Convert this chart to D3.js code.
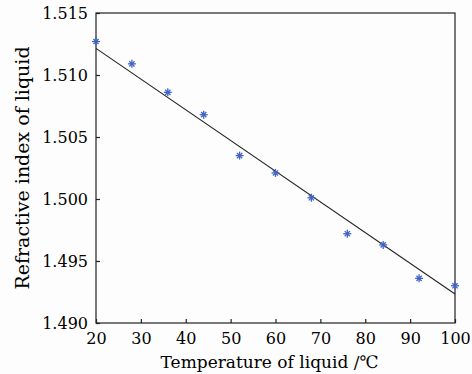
<!DOCTYPE html>
<html>
<head>
<meta charset="utf-8">
<script src="https://cdn.jsdelivr.net/npm/d3@7"></script>
<style>
  body { margin: 0; background: #fdfdfd; }
  svg { display: block; }
  text { font-family: "DejaVu Serif", "Liberation Serif", serif; fill: #000; }
</style>
</head>
<body>
<svg></svg>
<script>
let temps = [20, 28, 36, 44, 52, 60, 68, 76, 84, 92, 100]
let refIndex = [1.5127, 1.5109, 1.5086, 1.5068, 1.5035, 1.5021, 1.5001, 1.4972, 1.4963, 1.4936, 1.4930]
let fitX = [20, 100]
let fitY = [1.51215, 1.49234]
let xTicks = [20, 30, 40, 50, 60, 70, 80, 90, 100]
let yTicks = [1.490, 1.495, 1.500, 1.505, 1.510, 1.515]

function drawChart () {
  let svgWidth = 472
  let svgHeight = 374
  let margin = { top: 13, right: 17, bottom: 51, left: 96 }
  let width = svgWidth - margin.left - margin.right
  let height = svgHeight - margin.top - margin.bottom

  let svg = d3.select('svg')
    .attr('width', svgWidth)
    .attr('height', svgHeight)

  let g = svg.append('g')
    .attr('transform', `translate(${margin.left}, ${margin.top})`)

  let x = d3.scaleLinear().domain([20, 100]).range([0, width])
  let y = d3.scaleLinear().domain([1.490, 1.515]).range([height, 0])

  // box
  g.append('rect')
    .attr('width', width)
    .attr('height', height)
    .attr('fill', 'none')
    .attr('stroke', '#222')
    .attr('stroke-width', 1.2)

  let xAxis = g.append('g')
    .attr('transform', `translate(0, ${height})`)
    .call(d3.axisBottom(x).tickValues(xTicks).tickSizeInner(-4).tickSizeOuter(0).tickPadding(10))
  let yAxis = g.append('g')
    .call(d3.axisLeft(y).tickValues(yTicks).tickFormat(d3.format('.3f')).tickSizeInner(-4).tickSizeOuter(0).tickPadding(8))

  ;[xAxis, yAxis].forEach(a => {
    a.select('.domain').remove()
    a.selectAll('line').attr('stroke', '#222').attr('stroke-width', 1.2)
    a.selectAll('text').attr('font-size', 16).attr('font-family', '"DejaVu Serif", serif').attr('fill', '#000')
  })
  yAxis.selectAll('text').attr('dy', '0.35em')

  // fit line
  let line = d3.line()
    .x((d, i) => x(fitX[i]))
    .y(d => y(d))
  g.append('path')
    .datum(fitY)
    .attr('d', line)
    .attr('fill', 'none')
    .attr('stroke', '#222')
    .attr('stroke-width', 1.1)

  // asterisk markers
  let pts = g.selectAll('.pt')
    .data(temps.map((t, i) => ({ t: t, v: refIndex[i] })))
    .enter().append('g')
    .attr('transform', d => `translate(${x(d.t)}, ${y(d.v)})`)
  let r = 4
  let segs = [[-r, 0, r, 0], [0, -r, 0, r], [-2.6, -2.6, 2.6, 2.6], [-2.6, 2.6, 2.6, -2.6]]
  segs.forEach(s => {
    pts.append('line')
      .attr('x1', s[0]).attr('y1', s[1]).attr('x2', s[2]).attr('y2', s[3])
      .attr('stroke', '#3f63c4')
      .attr('stroke-width', 1.3)
  })

  svg.append('text')
    .attr('x', margin.left + width / 2 - 6)
    .attr('y', 368)
    .attr('text-anchor', 'middle')
    .attr('font-size', 17)
    .text('Temperature of liquid /℃')

  svg.append('text')
    .attr('transform', `translate(29, ${margin.top + height / 2}) rotate(-90)`)
    .attr('text-anchor', 'middle')
    .attr('font-size', 19)
    .text('Refractive index of liquid')
}

drawChart()
</script>
</body>
</html>
